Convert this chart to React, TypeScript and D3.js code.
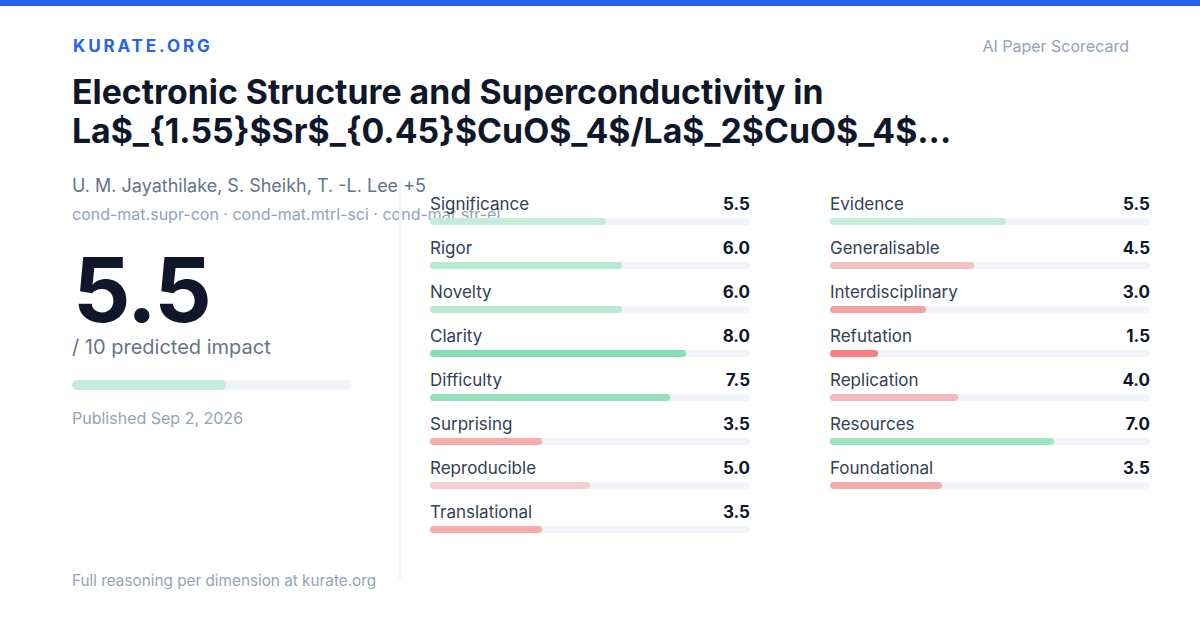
import React from "react";
import * as d3 from "d3";

const leftNames = ["Significance", "Rigor", "Novelty", "Clarity", "Difficulty", "Surprising", "Reproducible", "Translational"];
const leftValues = [5.5, 6.0, 6.0, 8.0, 7.5, 3.5, 5.0, 3.5];
const rightNames = ["Evidence", "Generalisable", "Interdisciplinary", "Refutation", "Replication", "Resources", "Foundational"];
const rightValues = [5.5, 4.5, 3.0, 1.5, 4.0, 7.0, 3.5];
const overallScore = 5.5;
const titleLines = ["Electronic Structure and Superconductivity in", "La$_{1.55}$Sr$_{0.45}$CuO$_4$/La$_2$CuO$_4$..."];
const authors = "U. M. Jayathilake, S. Sheikh, T. -L. Lee +5";
const categories = "cond-mat.supr-con · cond-mat.mtrl-sci · cond-mat.str-el";

const FONT = "Inter, 'Noto Sans', sans-serif";

const redOpacity = d3.scaleLinear().domain([1.5, 5]).range([0.9, 0.3]).clamp(true);
const greenOpacity = d3.scaleLinear().domain([5.5, 8]).range([0.25, 0.6]).clamp(true);
function barColor(v: number) {
  if (v <= 5) {
    const c = d3.rgb("#f87171");
    c.opacity = redOpacity(v);
    return c.formatRgb();
  }
  const c = d3.rgb("rgb(62,208,132)");
  c.opacity = greenOpacity(v);
  return c.formatRgb();
}

function Column({ names, values, x0 }: { names: string[]; values: number[]; x0: number }) {
  const x = d3.scaleLinear().domain([0, 10]).range([x0, x0 + 320]);
  const y = (i: number) => 210 + i * 44;
  return (
    <g>
      {names.map((n, i) => (
        <g key={n}>
          <text x={x0} y={y(i)} fontSize={17} fill="#334155" fontFamily={FONT}>{n}</text>
          <text x={x(10)} y={y(i)} fontSize={17} fontWeight={700} fill="#0f172a" textAnchor="end" fontFamily={FONT}>{values[i].toFixed(1)}</text>
          <rect x={x(0)} y={y(i) + 8} width={x(10) - x(0)} height={7} rx={3.5} fill="#f1f5f9" />
          <rect x={x(0)} y={y(i) + 8} width={x(values[i]) - x(0)} height={7} rx={3.5} fill={barColor(values[i])} />
        </g>
      ))}
    </g>
  );
}

export default function App() {
  const sx = d3.scaleLinear().domain([0, 10]).range([72, 352]);
  return (
    <svg width={1200} height={630} style={{ position: "absolute", left: 0, top: 0, background: "#fff" }} fontFamily={FONT}>
      <rect x={0} y={0} width={1200} height={630} fill="#ffffff" />
      <rect x={0} y={0} width={1200} height={6} fill="#2563eb" />
      <text x={73} y={52} fontSize={17} fontWeight={700} fill="#2563eb" letterSpacing={2.9}>KURATE.ORG</text>
      <text x={1129} y={52} fontSize={16} fill="#94a3b8" textAnchor="end">AI Paper Scorecard</text>
      {titleLines.map((t, i) => (
        <text key={i} x={72} y={104 + i * 39} fontSize={33.8} fontWeight={700} fill="#0f172a">{t}</text>
      ))}
      <text x={72} y={192} fontSize={18} fill="#64748b">{authors}</text>
      <text x={72} y={220} fontSize={16} fill="#94a3b8">{categories}</text>
      <text x={73} y={322} fontSize={90} fontWeight={700} fill="#0f172a" letterSpacing={-1.8}>{overallScore.toFixed(1)}</text>
      <text x={72} y={354} fontSize={20} fill="#64748b">/ 10 predicted impact</text>
      <rect x={sx(0)} y={380} width={sx(10) - sx(0)} height={10} rx={5} fill="#f1f5f9" />
      <rect x={sx(0)} y={380} width={sx(overallScore) - sx(0)} height={10} rx={5} fill={barColor(overallScore)} />
      <text x={72} y={424} fontSize={16} fill="#94a3b8">Published Sep 2, 2026</text>
      <text x={72} y={586} fontSize={15.3} fill="#94a3b8">Full reasoning per dimension at kurate.org</text>
      <rect x={399} y={180} width={2} height={400} fill="#f1f5f9" />
      <Column names={leftNames} values={leftValues} x0={430} />
      <Column names={rightNames} values={rightValues} x0={830} />
    </svg>
  );
}
